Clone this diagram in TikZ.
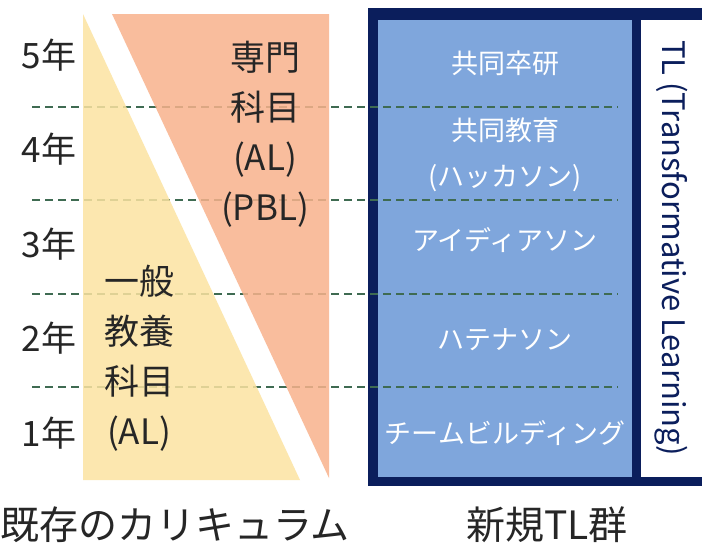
\documentclass[tikz,border=0pt]{standalone}
\usepackage{fontspec}
\setmainfont{Noto Sans CJK JP}
\usepackage{tikz}
\definecolor{navy}{HTML}{0B1E5C}
\definecolor{tlblue}{HTML}{7FA6DC}
\definecolor{ippan}{HTML}{FCE3A1}
\definecolor{senmon}{HTML}{F8B28C}
\definecolor{gridgreen}{HTML}{3F6B52}
\tikzstyle{year} = [font=\fontsize{35}{40}\selectfont, text=black!85, inner sep=0pt]
\tikzstyle{subject} = [align=center, font=\fontsize{35}{50}\selectfont, text=black!85, inner sep=0pt]
\tikzstyle{tlitem} = [align=center, font=\fontsize{27}{46}\selectfont, text=white, inner sep=0pt]
\tikzstyle{caption} = [font=\fontsize{39}{42}\selectfont, text=black!85, inner sep=0pt]
\tikzstyle{grid} = [dash pattern=on 8pt off 5pt, line width=1.2pt, draw=gridgreen]

\begin{document}
\begin{tikzpicture}[x=1pt, y=-1pt, node distance=94.5pt]
\useasboundingbox (0,0) rectangle (702,547);
\fill[white] (0,0) rectangle (702,547);

% new TL box
\fill[navy] (368,8) rectangle (702,486);
\fill[tlblue] (378,20) rectangle (632,477);
\fill[white] (641,20) rectangle (702,477);

% year borders
\foreach \y in {107,200,294,387}
  \draw[grid] (32,\y) -- (618,\y);

% existing curriculum
\fill[ippan, fill opacity=0.85] (83,14) -- (300,480) -- (83,480) -- cycle;
\fill[senmon, fill opacity=0.85] (112,14) -- (329,14) -- (329,478) -- cycle;

\node (y5) [year] at (49,55) {5年};
\node (y4) [year, below of=y5] {4年};
\node (y3) [year, below of=y4] {3年};
\node (y2) [year, below of=y3] {2年};
\node (y1) [year, below of=y2] {1年};

\node (senmon) [subject] at (265,134) {専門\\科目\\(AL)\\(PBL)};
\node (ippan) [subject] at (139,358) {一般\\教養\\科目\\(AL)};

\node (sotsuken) [tlitem] at (505,63) {共同卒研};
\node (hackathon) [tlitem] at (505,155) {共同教育\\(ハッカソン)};
\node (ideathon) [tlitem] at (505,240) {アイディアソン};
\node (hatenathon) [tlitem] at (505,340) {ハテナソン};
\node (teambuild) [tlitem] at (505,433) {チームビルディング};

\node (tl) [rotate=-90, font=\fontsize{31}{34}\selectfont, text=navy, inner sep=0pt] at (671,248) {TL (Transformative Learning)};

\node (kizon) [caption] at (175,525) {既存のカリキュラム};
\node (shinki) [caption] at (547,525) {新規TL群};

\end{tikzpicture}
\end{document}
